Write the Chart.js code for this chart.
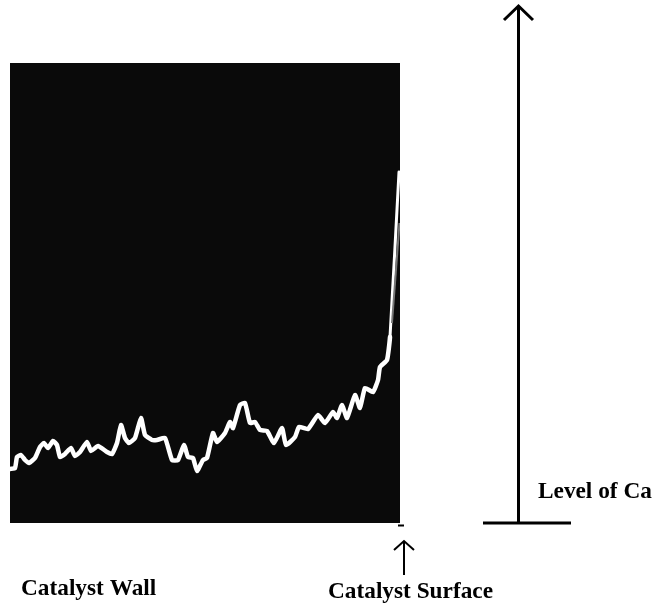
<!DOCTYPE html>
<html>
<head>
<meta charset="utf-8">
<script src="https://cdn.jsdelivr.net/npm/chart.js@4"></script>
<style>
  html, body { margin: 0; padding: 0; background: #fff; }
  #wrap { width: 655px; height: 605px; }
</style>
</head>
<body>
<div id="wrap"><canvas id="myChart" width="655" height="605"></canvas></div>
<script>
// Values: distance from the wall and level of Ca
const distance = [0, 5, 7, 11, 15, 19, 25, 30, 34, 38, 43, 47, 50, 55, 61, 65, 70, 77, 81, 88,
  97, 102, 107, 111, 115, 119, 125, 131, 135, 142, 147, 155, 162, 168, 174, 178, 183, 187, 193,
  197, 203, 207, 215, 220, 223, 230, 235, 240, 245, 250, 257, 264, 272, 276, 285, 289, 298,
  308, 315, 323, 327, 332, 337, 345, 350, 355, 363, 368, 370, 377, 380, 389];
const caLevel = [54, 55, 66, 68, 63, 60, 65, 76, 80, 75, 82, 78, 66, 69, 75, 67, 71, 81, 72, 77,
  71, 69, 80, 98, 85, 80, 85, 105, 88, 83, 83, 85, 63, 63, 78, 66, 65, 52, 63, 65, 90, 81, 90,
  101, 95, 118, 120, 100, 101, 93, 92, 80, 95, 78, 86, 96, 94, 108, 100, 111, 105, 118, 105,
  128, 115, 135, 131, 143, 156, 163, 186, 351];
// Thin grey second trace at the surface
const surfaceDistance = [382, 389.5];
const surfaceLevel = [200, 300];

const labels = [
  { text: 'Catalyst Wall', x: 21, y: 595 },
  { text: 'Catalyst Surface', x: 328, y: 598 },
  { text: 'Level of Ca', x: 538, y: 498 }
];

// Draws the black panel behind the trace
const panelPlugin = {
  id: 'panel',
  beforeDatasetsDraw(chart) {
    const { ctx, chartArea: a } = chart;
    ctx.save();
    ctx.fillStyle = '#0a0a0a';
    ctx.fillRect(a.left, a.top, a.right - a.left, a.bottom - a.top);
    ctx.restore();
  }
};

// Arrows and text outside of the plot
const notesPlugin = {
  id: 'notes',
  afterDraw(chart) {
    const ctx = chart.ctx;
    ctx.save();
    ctx.strokeStyle = '#000';
    ctx.lineCap = 'butt';
    ctx.lineJoin = 'miter';

    function stroke(width, pts) {
      ctx.lineWidth = width;
      ctx.beginPath();
      pts.forEach((p, i) => i ? ctx.lineTo(p[0], p[1]) : ctx.moveTo(p[0], p[1]));
      ctx.stroke();
    }

    // big Ca axis
    stroke(3, [[518.5, 523], [518.5, 7]]);
    stroke(3, [[504, 20], [518.5, 6], [533, 20]]);
    stroke(3, [[483, 523], [571, 523]]);

    // small surface arrow
    stroke(2, [[404, 575], [404, 542]]);
    stroke(2, [[394, 550], [404, 541], [414, 550]]);
    // little tick under the panel corner
    stroke(2, [[398, 525.5], [404, 525.5]]);

    ctx.fillStyle = '#000';
    ctx.font = 'bold 23.3px "Liberation Serif"';
    ctx.textBaseline = 'alphabetic';
    labels.forEach(l => ctx.fillText(l.text, l.x, l.y));
    ctx.restore();
  }
};

const ctx = document.getElementById('myChart').getContext('2d');
new Chart(ctx, {
  type: 'line',
  data: {
    datasets: [
      {
        label: 'Ca surface',
        data: surfaceDistance.map((d, i) => ({ x: d, y: surfaceLevel[i] })),
        borderColor: '#777777',
        borderWidth: 2,
        pointRadius: 0,
        tension: 0,
        fill: false
      },
      {
        label: 'Ca',
        data: distance.map((d, i) => ({ x: d, y: caLevel[i] })),
        borderColor: '#ffffff',
        borderWidth: 4.5,
        borderJoinStyle: 'round',
        borderCapStyle: 'round',
        pointRadius: 0,
        tension: 0.15,
        fill: false,
        segment: {
          // the steep rise at the surface is drawn thinner
          borderWidth: c => c.p0DataIndex >= distance.length - 2 ? 3 : 4.5
        }
      }
    ]
  },
  options: {
    responsive: false,
    animation: false,
    layout: { padding: { left: 10, top: 63, right: 255, bottom: 82 } },
    plugins: { legend: { display: false }, tooltip: { enabled: false } },
    scales: {
      x: { type: 'linear', min: 0, max: 390, display: false },
      y: { type: 'linear', min: 0, max: 460, display: false }
    }
  },
  plugins: [panelPlugin, notesPlugin]
});
</script>
</body>
</html>
